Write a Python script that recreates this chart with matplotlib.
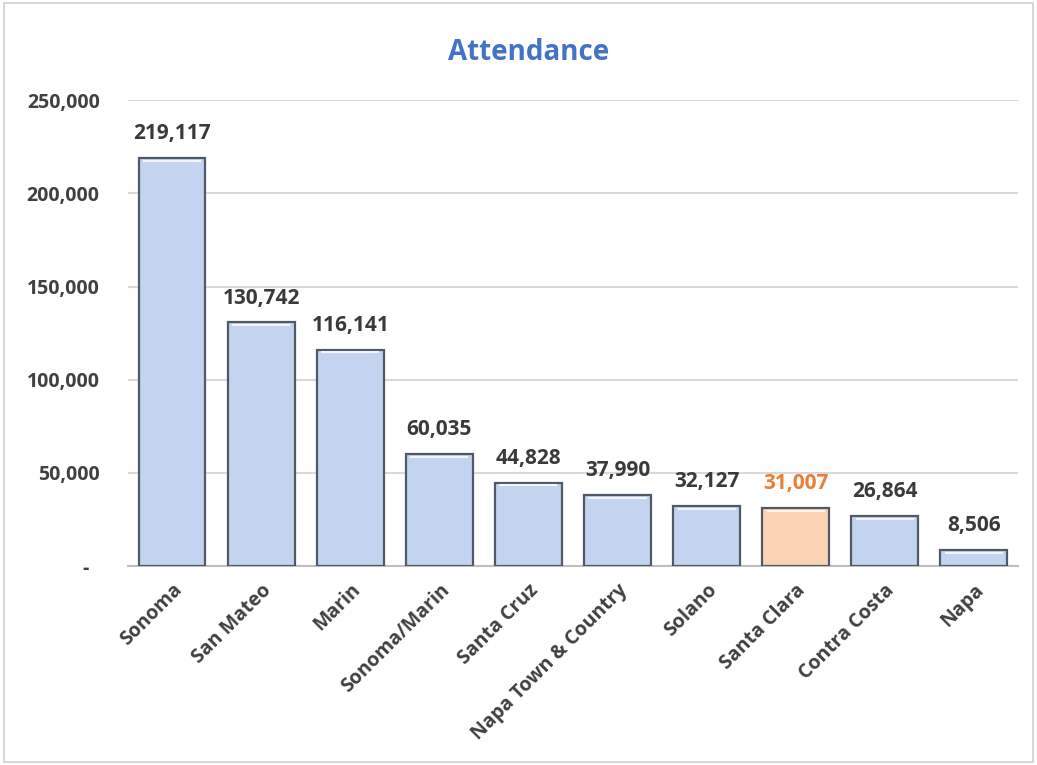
import matplotlib.pyplot as plt
from matplotlib.patches import Rectangle
from matplotlib.ticker import FuncFormatter

categories = ['Sonoma', 'San Mateo', 'Marin', 'Sonoma/Marin', 'Santa Cruz',
              'Napa Town & Country', 'Solano', 'Santa Clara', 'Contra Costa', 'Napa']
attendance = [219117, 130742, 116141, 60035, 44828, 37990, 32127, 31007, 26864, 8506]
highlight = 'Santa Clara'

plt.rcParams['font.family'] = ['Open Sans', 'DejaVu Sans']

fig = plt.figure(figsize=(10.37, 7.65), dpi=100)
ax = fig.add_axes([0.123, 0.26, 0.859, 0.609])

# light frame around the chart
fig.patches.append(Rectangle((0.004, 0.004), 0.992, 0.992, transform=fig.transFigure,
                             fill=False, edgecolor='#d0d0d0', lw=1.2))

x = range(len(categories))
fills = ['#f9d3b4' if c == highlight else '#c3d4f1' for c in categories]
bars = ax.bar(x, attendance, width=0.75, color=fills, edgecolor='#4f5a66', linewidth=1.6, zorder=3)

# small bevel highlight at the top of each bar
for b in bars:
    ax.plot([b.get_x() + 0.06, b.get_x() + b.get_width() - 0.06],
            [b.get_height() - 1500, b.get_height() - 1500],
            color='white', lw=1.5, alpha=0.8, zorder=4)

for b, c, v in zip(bars, categories, attendance):
    col = '#ed7d31' if c == highlight else '#3a3a3a'
    ax.annotate(f'{v:,}', (b.get_x() + b.get_width() / 2, v), xytext=(0, 10),
                textcoords='offset points', ha='center', va='bottom',
                fontsize=15, fontweight='bold', color=col)

ax.set_ylim(0, 250000)
ax.set_xlim(-0.5, len(categories) - 0.5)
ax.set_yticks(range(0, 250001, 50000))
ax.yaxis.set_major_formatter(FuncFormatter(lambda v, p: '-\u2007' if v == 0 else f'{int(v):,}'))
ax.grid(axis='y', color='#d9d9d9', lw=1.5, zorder=0)
ax.set_xticks(list(x))
ax.set_xticklabels(categories, rotation=45, ha='right', rotation_mode='anchor')

ax.tick_params(axis='both', length=0, labelsize=14, labelcolor='#404040')
ax.tick_params(axis='y', pad=20)
ax.tick_params(axis='x', pad=10)
for lab in ax.get_xticklabels() + ax.get_yticklabels():
    lab.set_fontweight('bold')

for s in ['top', 'right', 'left']:
    ax.spines[s].set_visible(False)
ax.spines['bottom'].set_color('#bfbfbf')
ax.spines['bottom'].set_linewidth(1.5)

fig.text(0.51, 0.932, 'Attendance', ha='center', va='center', fontsize=20,
         fontweight='bold', color='#4472c4')

fig.savefig('out.png', dpi=100)
